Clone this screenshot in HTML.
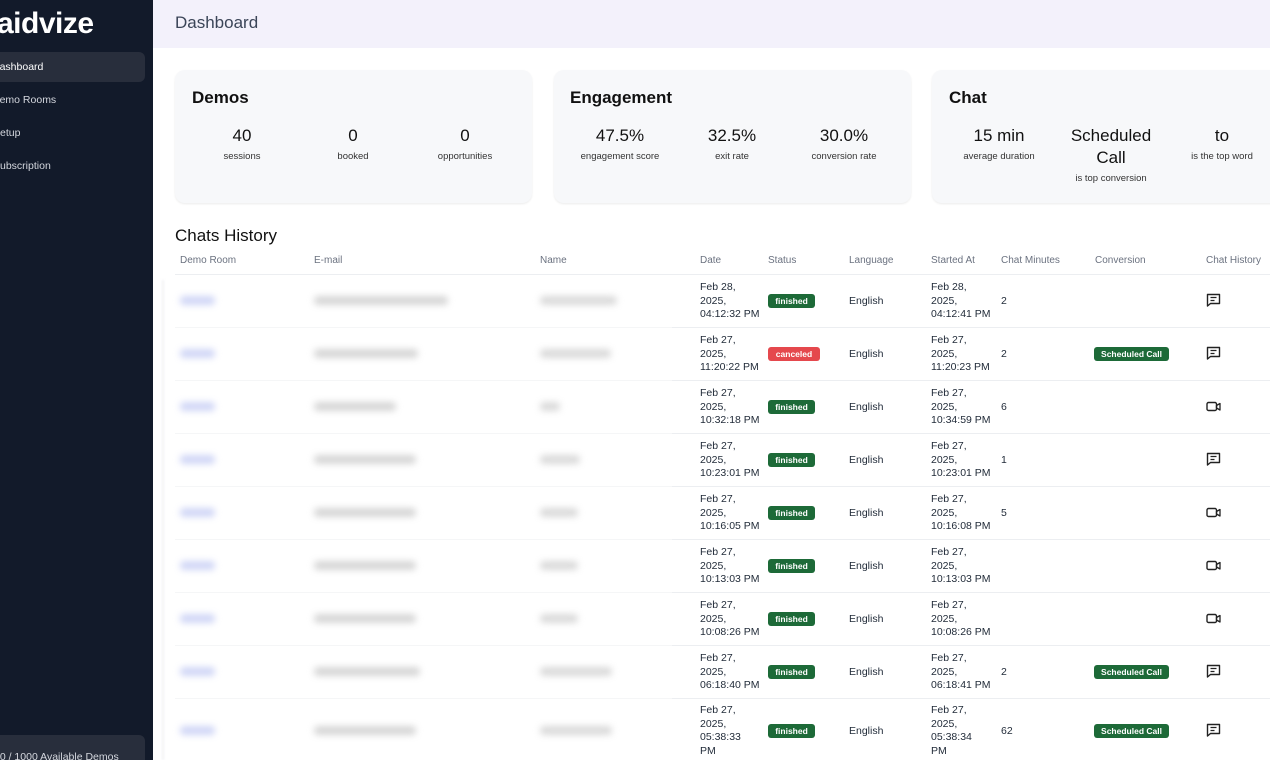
<!DOCTYPE html>
<html style="overflow:hidden;width:1270px;height:760px"><head><meta charset="utf-8">
<style>
*{margin:0;padding:0;box-sizing:border-box}
body{width:1270px;height:760px;overflow:hidden;background:#fff;font-family:"Liberation Sans",sans-serif;position:relative;color:#111}
.a{position:absolute;white-space:nowrap}
#side{position:absolute;left:0;top:0;width:153px;height:760px;background:#121a2a;overflow:hidden}
.logo{left:-3px;top:7px;font-size:30px;font-weight:bold;color:#fff;letter-spacing:-0.5px}
.act{left:-10px;top:52px;width:155px;height:30px;background:#282e3c;border-radius:6px}
.nav{font-size:10.5px;color:#d4d7de}
#hdr{position:absolute;left:153px;top:0;width:1117px;height:48px;background:#f3f1fb}
.card{position:absolute;top:70px;height:133px;background:#f7f8fa;border-radius:10px;box-shadow:0 1px 2px rgba(0,0,0,0.08)}
.ct{font-size:17px;font-weight:bold;color:#111}
.v{font-size:17px;color:#111;text-align:center;transform:translateX(-50%)}
.l{font-size:9.5px;color:#333;text-align:center;transform:translateX(-50%)}
.th{font-size:10px;color:#6b7280;top:255px}
.hl{position:absolute;height:1px;background:#eceef1}
.t{font-size:10.5px;line-height:13.5px;color:#1f2937}
.bd{font-size:8.5px;font-weight:bold;color:#fff;height:14px;line-height:14px;border-radius:3px;text-align:center}
.g{background:#1d6a38}
.r{background:#e5484d}
.bl{filter:blur(3.5px);height:9px;border-radius:4px}
</style></head><body>
<div id="side">
<div class="a logo">aidvize</div>
<div class="a act"></div>
<div class="a nav" style="left:-8px;top:61px;color:#fff">Dashboard</div>
<div class="a nav" style="left:-8px;top:94px">Demo Rooms</div>
<div class="a nav" style="left:-7px;top:127px">Setup</div>
<div class="a nav" style="left:-7px;top:160px">Subscription</div>
<div class="a" style="left:-10px;top:735px;width:155px;height:25px;background:#282e3c;border-radius:6px 6px 0 0"></div>
<div class="a nav" style="left:-6px;top:751px">60 / 1000 Available Demos</div>
</div>
<div id="hdr"><div class="a" style="left:22px;top:13px;font-size:17px;color:#3b4558">Dashboard</div></div>

<div class="card" style="left:175px;width:357px"></div>
<div class="card" style="left:554px;width:357px"></div>
<div class="card" style="left:932px;width:360px"></div>

<div class="a ct" style="left:192px;top:88px">Demos</div>
<div class="a v" style="left:242px;top:126px">40</div><div class="a l" style="left:242px;top:151px">sessions</div>
<div class="a v" style="left:353px;top:126px">0</div><div class="a l" style="left:353px;top:151px">booked</div>
<div class="a v" style="left:465px;top:126px">0</div><div class="a l" style="left:465px;top:151px">opportunities</div>

<div class="a ct" style="left:570px;top:88px">Engagement</div>
<div class="a v" style="left:620px;top:126px">47.5%</div><div class="a l" style="left:620px;top:151px">engagement score</div>
<div class="a v" style="left:732px;top:126px">32.5%</div><div class="a l" style="left:732px;top:151px">exit rate</div>
<div class="a v" style="left:844px;top:126px">30.0%</div><div class="a l" style="left:844px;top:151px">conversion rate</div>

<div class="a ct" style="left:949px;top:88px">Chat</div>
<div class="a v" style="left:999px;top:126px">15 min</div><div class="a l" style="left:999px;top:151px">average duration</div>
<div class="a v" style="left:1111px;line-height:22px;top:125px">Scheduled<br>Call</div><div class="a l" style="left:1111px;top:173px">is top conversion</div>
<div class="a v" style="left:1222px;top:126px">to</div><div class="a l" style="left:1222px;top:151px">is the top word</div>

<div class="a" style="left:175px;top:226px;font-size:17px;color:#111">Chats History</div>
<div class="a th" style="left:180px">Demo Room</div>
<div class="a th" style="left:314px">E-mail</div>
<div class="a th" style="left:540px">Name</div>
<div class="a th" style="left:700px">Date</div>
<div class="a th" style="left:768px">Status</div>
<div class="a th" style="left:849px">Language</div>
<div class="a th" style="left:931px">Started At</div>
<div class="a th" style="left:1001px">Chat Minutes</div>
<div class="a th" style="left:1095px">Conversion</div>
<div class="a th" style="left:1206px">Chat History</div>
<div class="hl" style="left:175px;top:274px;width:1095px"></div>
<div class="a" style="left:162px;top:280px;width:2px;height:480px;background:#f1f2f4;filter:blur(1px)"></div>

<svg width="0" height="0" style="position:absolute">
<defs>
<g id="chat"><path d="M1.5 1.5h12v9h-9l-3 2.5z" fill="none" stroke="#222" stroke-width="1.4" stroke-linejoin="round"/><path d="M4.5 4.5h6M4.5 7.5h4" stroke="#222" stroke-width="1.3"/></g>
<g id="vid"><rect x="1" y="2.5" width="9.5" height="8" rx="1.5" fill="none" stroke="#222" stroke-width="1.4"/><path d="M10.5 5.5l3.5-2v6.5l-3.5-2z" fill="none" stroke="#222" stroke-width="1.3" stroke-linejoin="round"/></g>
</defs></svg>

<!-- Row 1 top 274 -->
<div class="hl" style="left:672px;top:327px;width:598px"></div>
<div class="hl" style="left:175px;top:327px;width:497px;background:#f5f6f7"></div>
<div class="a bl" style="left:180px;top:296px;width:35px;background:#d0d6f6"></div>
<div class="a bl" style="left:314px;top:296px;width:134px;background:#d6d6d6"></div>
<div class="a bl" style="left:540px;top:296px;width:77px;background:#dadada"></div>
<div class="a t" style="left:700px;top:281px">Feb 28,<br>2025,<br>04:12:32 PM</div>
<div class="a bd g" style="left:768px;top:294px;width:47px">finished</div>
<div class="a t" style="left:849px;top:295px">English</div>
<div class="a t" style="left:931px;top:281px">Feb 28,<br>2025,<br>04:12:41 PM</div>
<div class="a t" style="left:1001px;top:295px">2</div>
<svg class="a" style="left:1206px;top:293px" width="16" height="15"><use href="#chat"/></svg>

<!-- Row 2 top 327 -->
<div class="hl" style="left:672px;top:380px;width:598px"></div>
<div class="hl" style="left:175px;top:380px;width:497px;background:#f5f6f7"></div>
<div class="a bl" style="left:180px;top:349px;width:35px;background:#d0d6f6"></div>
<div class="a bl" style="left:314px;top:349px;width:104px;background:#d6d6d6"></div>
<div class="a bl" style="left:540px;top:349px;width:71px;background:#dadada"></div>
<div class="a t" style="left:700px;top:334px">Feb 27,<br>2025,<br>11:20:22 PM</div>
<div class="a bd r" style="left:768px;top:347px;width:52px">canceled</div>
<div class="a t" style="left:849px;top:348px">English</div>
<div class="a t" style="left:931px;top:334px">Feb 27,<br>2025,<br>11:20:23 PM</div>
<div class="a t" style="left:1001px;top:348px">2</div>
<div class="a bd g" style="left:1094px;top:347px;width:75px">Scheduled Call</div>
<svg class="a" style="left:1206px;top:346px" width="16" height="15"><use href="#chat"/></svg>

<!-- Row 3 top 380 -->
<div class="hl" style="left:672px;top:433px;width:598px"></div>
<div class="hl" style="left:175px;top:433px;width:497px;background:#f5f6f7"></div>
<div class="a bl" style="left:180px;top:402px;width:35px;background:#d0d6f6"></div>
<div class="a bl" style="left:314px;top:402px;width:82px;background:#d6d6d6"></div>
<div class="a bl" style="left:540px;top:402px;width:20px;background:#dadada"></div>
<div class="a t" style="left:700px;top:387px">Feb 27,<br>2025,<br>10:32:18 PM</div>
<div class="a bd g" style="left:768px;top:400px;width:47px">finished</div>
<div class="a t" style="left:849px;top:401px">English</div>
<div class="a t" style="left:931px;top:387px">Feb 27,<br>2025,<br>10:34:59 PM</div>
<div class="a t" style="left:1001px;top:401px">6</div>
<svg class="a" style="left:1206px;top:400px" width="16" height="14"><use href="#vid"/></svg>

<!-- Row 4 top 433 -->
<div class="hl" style="left:672px;top:486px;width:598px"></div>
<div class="hl" style="left:175px;top:486px;width:497px;background:#f5f6f7"></div>
<div class="a bl" style="left:180px;top:455px;width:35px;background:#d0d6f6"></div>
<div class="a bl" style="left:314px;top:455px;width:102px;background:#d6d6d6"></div>
<div class="a bl" style="left:540px;top:455px;width:40px;background:#dadada"></div>
<div class="a t" style="left:700px;top:440px">Feb 27,<br>2025,<br>10:23:01 PM</div>
<div class="a bd g" style="left:768px;top:453px;width:47px">finished</div>
<div class="a t" style="left:849px;top:454px">English</div>
<div class="a t" style="left:931px;top:440px">Feb 27,<br>2025,<br>10:23:01 PM</div>
<div class="a t" style="left:1001px;top:454px">1</div>
<svg class="a" style="left:1206px;top:452px" width="16" height="15"><use href="#chat"/></svg>

<!-- Row 5 top 486 -->
<div class="hl" style="left:672px;top:539px;width:598px"></div>
<div class="hl" style="left:175px;top:539px;width:497px;background:#f5f6f7"></div>
<div class="a bl" style="left:180px;top:508px;width:35px;background:#d0d6f6"></div>
<div class="a bl" style="left:314px;top:508px;width:102px;background:#d6d6d6"></div>
<div class="a bl" style="left:540px;top:508px;width:38px;background:#dadada"></div>
<div class="a t" style="left:700px;top:493px">Feb 27,<br>2025,<br>10:16:05 PM</div>
<div class="a bd g" style="left:768px;top:506px;width:47px">finished</div>
<div class="a t" style="left:849px;top:507px">English</div>
<div class="a t" style="left:931px;top:493px">Feb 27,<br>2025,<br>10:16:08 PM</div>
<div class="a t" style="left:1001px;top:507px">5</div>
<svg class="a" style="left:1206px;top:506px" width="16" height="14"><use href="#vid"/></svg>

<!-- Row 6 top 539 -->
<div class="hl" style="left:672px;top:592px;width:598px"></div>
<div class="hl" style="left:175px;top:592px;width:497px;background:#f5f6f7"></div>
<div class="a bl" style="left:180px;top:561px;width:35px;background:#d0d6f6"></div>
<div class="a bl" style="left:314px;top:561px;width:102px;background:#d6d6d6"></div>
<div class="a bl" style="left:540px;top:561px;width:38px;background:#dadada"></div>
<div class="a t" style="left:700px;top:546px">Feb 27,<br>2025,<br>10:13:03 PM</div>
<div class="a bd g" style="left:768px;top:559px;width:47px">finished</div>
<div class="a t" style="left:849px;top:560px">English</div>
<div class="a t" style="left:931px;top:546px">Feb 27,<br>2025,<br>10:13:03 PM</div>
<svg class="a" style="left:1206px;top:559px" width="16" height="14"><use href="#vid"/></svg>

<!-- Row 7 top 592 -->
<div class="hl" style="left:672px;top:645px;width:598px"></div>
<div class="hl" style="left:175px;top:645px;width:497px;background:#f5f6f7"></div>
<div class="a bl" style="left:180px;top:614px;width:35px;background:#d0d6f6"></div>
<div class="a bl" style="left:314px;top:614px;width:102px;background:#d6d6d6"></div>
<div class="a bl" style="left:540px;top:614px;width:38px;background:#dadada"></div>
<div class="a t" style="left:700px;top:599px">Feb 27,<br>2025,<br>10:08:26 PM</div>
<div class="a bd g" style="left:768px;top:612px;width:47px">finished</div>
<div class="a t" style="left:849px;top:613px">English</div>
<div class="a t" style="left:931px;top:599px">Feb 27,<br>2025,<br>10:08:26 PM</div>
<svg class="a" style="left:1206px;top:612px" width="16" height="14"><use href="#vid"/></svg>

<!-- Row 8 top 645 -->
<div class="hl" style="left:672px;top:698px;width:598px"></div>
<div class="hl" style="left:175px;top:698px;width:497px;background:#f5f6f7"></div>
<div class="a bl" style="left:180px;top:667px;width:35px;background:#d0d6f6"></div>
<div class="a bl" style="left:314px;top:667px;width:106px;background:#d6d6d6"></div>
<div class="a bl" style="left:540px;top:667px;width:72px;background:#dadada"></div>
<div class="a t" style="left:700px;top:652px">Feb 27,<br>2025,<br>06:18:40 PM</div>
<div class="a bd g" style="left:768px;top:665px;width:47px">finished</div>
<div class="a t" style="left:849px;top:666px">English</div>
<div class="a t" style="left:931px;top:652px">Feb 27,<br>2025,<br>06:18:41 PM</div>
<div class="a t" style="left:1001px;top:666px">2</div>
<div class="a bd g" style="left:1094px;top:665px;width:75px">Scheduled Call</div>
<svg class="a" style="left:1206px;top:664px" width="16" height="15"><use href="#chat"/></svg>

<!-- Row 9 top 698 -->
<div class="a bl" style="left:180px;top:726px;width:35px;background:#d0d6f6"></div>
<div class="a bl" style="left:314px;top:726px;width:102px;background:#d6d6d6"></div>
<div class="a bl" style="left:540px;top:726px;width:72px;background:#dadada"></div>
<div class="a t" style="left:700px;top:704px">Feb 27,<br>2025,<br>05:38:33<br>PM</div>
<div class="a bd g" style="left:768px;top:724px;width:47px">finished</div>
<div class="a t" style="left:849px;top:725px">English</div>
<div class="a t" style="left:931px;top:704px">Feb 27,<br>2025,<br>05:38:34<br>PM</div>
<div class="a t" style="left:1001px;top:725px">62</div>
<div class="a bd g" style="left:1094px;top:724px;width:75px">Scheduled Call</div>
<svg class="a" style="left:1206px;top:723px" width="16" height="15"><use href="#chat"/></svg>
</body></html>
